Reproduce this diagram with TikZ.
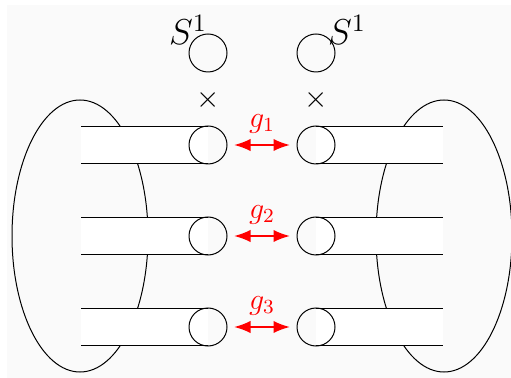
\documentclass[tikz,border=0pt]{standalone}
\usetikzlibrary{arrows.meta}
\begin{document}
\begin{tikzpicture}[x=0.4pt,y=-0.4pt,font=\large,
        ring/.style={draw,circle,minimum size=15.2pt,inner sep=0pt},
        glue/.style={red,thick,{Latex}-{Latex},shorten >=2.6pt,shorten <=2.6pt}]
        \useasboundingbox (0,0) rectangle (511,378);
        \fill[gray!4] (7,5) rectangle (511,378);
        % the two handlebodies
        \draw (80,236) ellipse [x radius=68, y radius=136];
        \draw (444,236) ellipse [x radius=68, y radius=136];
        % tubes
        \foreach \n/\y in {1/145,2/236,3/327} {
            \fill[white] (81,\y-18.5) rectangle (208,\y+18.5);
            \fill[white] (316,\y-18.5) rectangle (443,\y+18.5);
            \draw (81,\y-18.5) -- (208,\y-18.5) (81,\y+18.5) -- (208,\y+18.5);
            \draw (316,\y-18.5) -- (443,\y-18.5) (316,\y+18.5) -- (443,\y+18.5);
            \node[ring] (l\n) at (208,\y) {};
            \node[ring] (r\n) at (316,\y) {};
            \draw[glue] (l\n) -- node[above=1pt] {$g_\n$} (r\n);
        }
        % circle factors
        \node[ring] (cl) at (208,53) {};
        \node[ring] (cr) at (316,53) {};
        \node[font=\Large] at (188,30) {$S^1$};
        \node[font=\Large] at (347,30) {$S^1$};
        \node at (208,100) {$\times$};
        \node at (316,100) {$\times$};
    \end{tikzpicture}
\end{document}
